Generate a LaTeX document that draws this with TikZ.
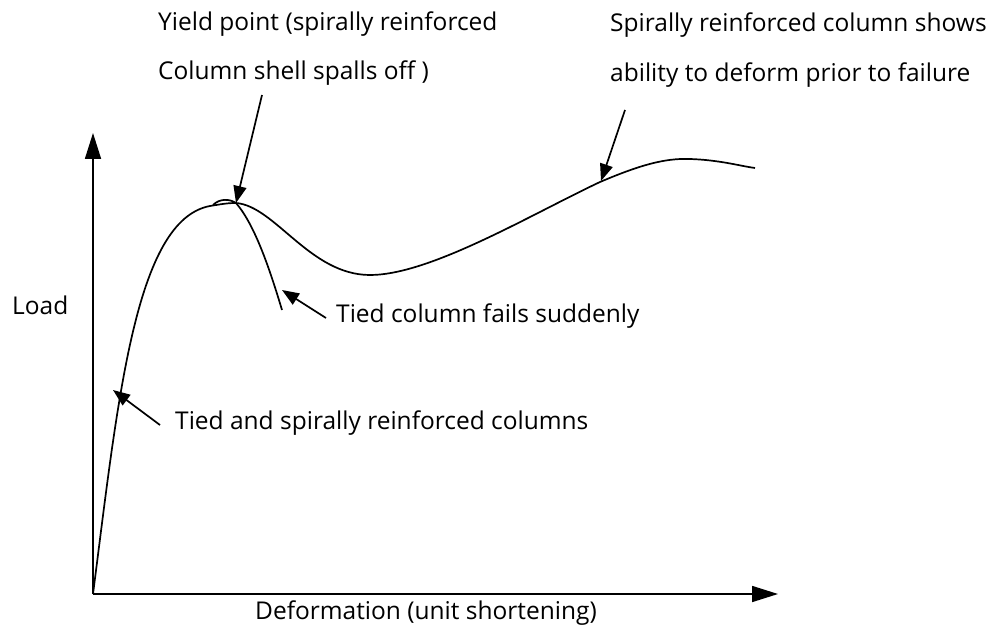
\documentclass[tikz,border=0pt]{standalone}
\usepackage{fontspec}
\setmainfont{Open Sans}
\usetikzlibrary{arrows.meta}
\begin{document}
\begin{tikzpicture}[x=1pt,y=-1pt,
  lbl/.style={anchor=west,inner sep=0pt,font=\fontsize{24.5}{28}\selectfont},
  crv/.style={line width=1.7pt},
  axis/.style={line width=1.7pt,-{Triangle[length=26pt,width=16pt]}},
  ann/.style={line width=1.7pt,-{Triangle[length=17pt,width=13pt]}}]
\useasboundingbox (0,0) rectangle (987,628);
\coordinate (O) at (93,594);
\coordinate (Ytop) at (93,133);
\coordinate (Xend) at (778,594);
\draw[axis] (O) -- (Ytop);
\draw[axis] (O) -- (Xend);
% curve
\coordinate (pk) at (236,203);
\draw[crv] (O) .. controls (118,400) and (135,220) .. (210,206)
  .. controls (222,204) and (228,203) .. (pk)
  .. controls (275,206) and (310,275) .. (370,275)
  .. controls (430,275) and (530,215) .. (600,182)
  .. controls (640,165) and (665,158) .. (690,159)
  .. controls (720,160) and (740,166) .. (755,168);
\coordinate (tiedend) at (282,310);
\draw[crv] (pk) .. controls (255,225) and (270,270) .. (tiedend);
\draw[crv] (213,205) .. controls (220,198) and (230,199) .. (pk);
% labels
\node[lbl] (y1) at (158,24) {Yield point (spirally reinforced};
\node[lbl] (y2) at (158,73) {Column shell spalls off )};
\node[lbl] (s1) at (610,25) {Spirally reinforced column shows};
\node[lbl] (s2) at (610,75) {ability to deform prior to failure};
\node[lbl] (load) at (12,305) {Load};
\node[lbl] (tf) at (336,316) {Tied column fails suddenly};
\node[lbl] (ts) at (175,423) {Tied and spirally reinforced columns};
\node[lbl] (def) at (255,613) {Deformation (unit shortening)};
% annotation arrows
\coordinate (a1s) at (262,95);
\coordinate (a2s) at (625,110);
\coordinate (a2e) at (601,181);
\coordinate (a3s) at (326,318);
\coordinate (a3e) at (282,290);
\coordinate (a4s) at (160,425);
\coordinate (a4e) at (113,390);
\draw[ann] (a1s) -- (pk);
\draw[ann] (a2s) -- (a2e);
\draw[ann] (a3s) -- (a3e);
\draw[ann] (a4s) -- (a4e);
\end{tikzpicture}
\end{document}
